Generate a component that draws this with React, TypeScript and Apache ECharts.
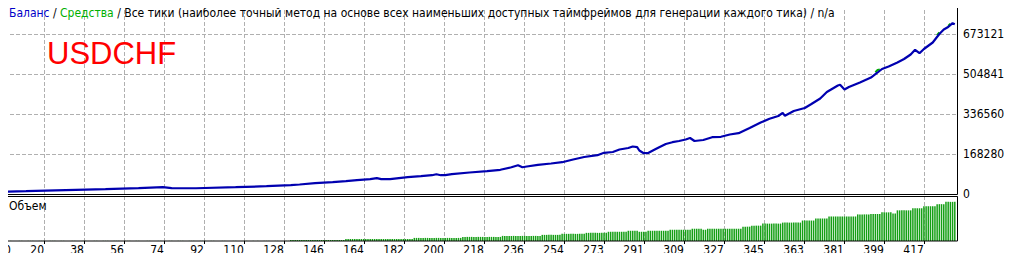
import React, { useEffect, useRef } from "react";
import * as echarts from "echarts";

// ---- data ----
const TRADES = 432;
const X_INTERVAL = 18.13;
const Y_INTERVAL = 168280.25;
const Y_MAX = 799331.2;
const VOL_MAX = 8;

const xTickLabels = [
  "0", "20", "38", "56", "74", "92", "110", "128", "146", "164", "182", "200",
  "218", "236", "254", "273", "291", "309", "327", "345", "363", "381", "399", "417",
];
const yTickLabels = ["0", "168280", "336560", "504841", "673121"];

// [trade, balance]
const balancePoints: [number, number][] = [
  [0, 10000], [10, 11800], [28, 16000], [46, 20200], [61, 24400], [72, 28600],
  [76, 24400], [87, 24200], [105, 28600], [119, 32800], [130, 37000], [134, 40000],
  [141, 45400], [149, 49600], [155, 53800], [160, 58100], [166, 62300], [169, 66500],
  [171, 62300], [175, 62300], [183, 70700], [189, 74900], [194, 79100], [196, 83300],
  [198, 79100], [200, 79100], [203, 83300], [211, 90500], [219, 95900], [225, 101800],
  [230, 112700], [233, 121200], [235, 112700], [237, 115700], [242, 122800], [248, 128300],
  [253, 133800], [258, 145100], [263, 155700], [269, 163200], [272, 173300], [276, 176700],
  [279, 187200], [283, 193500], [285, 199800], [287, 196900], [288, 183000], [290, 171600],
  [292, 172500], [295, 187200], [297, 196900], [300, 210400], [303, 217900], [306, 223000],
  [309, 229300], [311, 235600], [313, 223000], [317, 227200], [321, 239000], [325, 240600],
  [329, 250300], [333, 255800], [338, 277700], [343, 300800], [347, 316400], [351, 328100],
  [353, 341600], [354, 329000], [358, 349200], [363, 361800], [366, 378600], [370, 401800],
  [373, 429100], [378, 456500], [379, 459400], [381, 439600], [383, 450100], [388, 469100],
  [393, 490100], [396, 511200], [398, 525900], [401, 536400], [405, 553200], [408, 567900],
  [411, 586900], [413, 606600], [415, 592300], [417, 610000], [421, 637400], [424, 673100],
  [426, 692100], [428, 702600], [430, 718600], [431, 714300],
];

// equity: only visible where it separates from the balance line
const equityPoints: ([number, number] | [number, string])[] = [
  [395, 512000], [396, 522000], [397, 524000], [397.5, "-"],
  [423, 668000], [424, 680000], [424.5, "-"],
  [428, 707000], [429, 716000],
];

// [firstTrade, lastTrade, lots]
const volumeRuns: [number, number, number][] = [
  [0, 129, 0.02], [130, 154, 0.18], [155, 185, 0.36], [186, 207, 0.55], [208, 225, 0.73],
  [226, 243, 0.91], [244, 252, 1.09], [253, 263, 1.27], [264, 273, 1.45], [274, 282, 1.64],
  [283, 287, 1.82], [288, 291, 1.64], [292, 301, 1.82], [302, 311, 2.0], [312, 316, 2.18],
  [317, 318, 2.0], [319, 334, 2.18], [335, 338, 2.55], [339, 343, 2.73], [344, 352, 3.09],
  [353, 361, 3.27], [362, 367, 3.64], [368, 373, 4.0], [374, 386, 4.36], [387, 392, 4.73],
  [393, 397, 4.8], [398, 402, 5.09], [403, 404, 4.91], [405, 411, 5.45], [412, 416, 5.82],
  [417, 422, 6.18], [423, 426, 6.55], [427, 431, 6.96],
];

const FONT = "'DejaVu Sans Condensed', 'DejaVu Sans', sans-serif";
const off = { show: false };
const dashed = () => ({
  show: true,
  lineStyle: { color: "#b0b0b0", type: "dashed", width: 1 },
});

export default function App() {
  const ref = useRef<HTMLDivElement>(null);
  useEffect(() => {
    if (!ref.current) return;
    const chart = echarts.init(ref.current, undefined, { renderer: "svg" });

    const volumeData: [number, number][] = [];
    for (const [a, b, lots] of volumeRuns) {
      for (let t = a; t <= b; t++) volumeData.push([t, lots]);
    }

    const xFmt = (v: number) => {
      const k = Math.round(v / X_INTERVAL);
      return Math.abs(v - k * X_INTERVAL) < 0.05 ? xTickLabels[k] ?? "" : "";
    };
    const yFmt = (v: number) => {
      const k = Math.round(v / Y_INTERVAL);
      return Math.abs(v - k * Y_INTERVAL) < 2 ? yTickLabels[k] ?? "" : "";
    };

    chart.setOption({
      animation: false,
      backgroundColor: "#ffffff",
      title: {
        left: 9,
        top: 7,
        padding: 0,
        text:
          "{b|Баланс} / {g|Средства} / Все тики (наиболее точный метод на основе всех наименьших доступных таймфреймов для генерации каждого тика) / n/a",
        textStyle: {
          fontSize: 12,
          fontWeight: "normal",
          color: "#000000",
          fontFamily: FONT,
          rich: {
            b: { color: "#0000c8", fontSize: 12, fontFamily: FONT },
            g: { color: "#00b000", fontSize: 12, fontFamily: FONT },
          },
        },
      },
      grid: [
        { left: 4, top: 4, width: 953, height: 190, show: false },
        { left: 4, top: 196, width: 953, height: 45, show: false },
      ],
      xAxis: [
        {
          type: "value", gridIndex: 0, min: 0, max: TRADES, interval: X_INTERVAL,
          axisLine: off, axisTick: off, axisLabel: off, splitLine: dashed(),
        },
        {
          type: "value", gridIndex: 1, min: 0, max: TRADES, interval: X_INTERVAL,
          axisLine: off,
          axisTick: { show: true, length: 3, lineStyle: { color: "#000" } },
          axisLabel: {
            show: true, formatter: xFmt, align: "right", alignMinLabel: "left",
            showMaxLabel: false, margin: 3, fontSize: 12, color: "#000", fontFamily: FONT,
          },
          splitLine: dashed(),
        },
      ],
      yAxis: [
        {
          type: "value", gridIndex: 0, position: "right", min: 0, max: Y_MAX, interval: Y_INTERVAL,
          axisLine: off,
          axisTick: { show: true, length: 4, lineStyle: { color: "#000" } },
          axisLabel: {
            formatter: yFmt, showMaxLabel: false, margin: 6, fontSize: 12, color: "#000",
            fontFamily: FONT,
          },
          splitLine: dashed(),
        },
        {
          type: "value", gridIndex: 1, min: 0, max: VOL_MAX,
          axisLine: off, axisTick: off, axisLabel: off, splitLine: off,
        },
      ],
      series: [
        {
          name: "Средства", type: "line", xAxisIndex: 0, yAxisIndex: 0, data: equityPoints,
          showSymbol: false, connectNulls: false, z: 2,
          lineStyle: { color: "#00b000", width: 2 },
        },
        {
          name: "Баланс", type: "line", xAxisIndex: 0, yAxisIndex: 0, data: balancePoints,
          showSymbol: false, z: 3,
          lineStyle: { color: "#0000b0", width: 2.2 },
        },
        {
          name: "Объем", type: "bar", xAxisIndex: 1, yAxisIndex: 1, data: volumeData,
          barWidth: 1.5, itemStyle: { color: "#159f15" }, z: 2,
        },
      ],
      graphic: [
        {
          type: "rect", z: 100, silent: true,
          shape: { x: 4.5, y: 4.5, width: 953, height: 190 },
          style: { fill: "none", stroke: "#000", lineWidth: 1 },
        },
        {
          type: "rect", z: 100, silent: true,
          shape: { x: 4.5, y: 196.5, width: 953, height: 44.5 },
          style: { fill: "none", stroke: "#000", lineWidth: 1 },
        },
        {
          type: "text", z: 100, left: 47, top: 38,
          style: { text: "USDCHF", fill: "#ff0000", fontSize: 31, fontFamily: "'Liberation Sans', Arial, sans-serif" },
        },
        {
          type: "text", z: 100, left: 9, top: 200,
          style: { text: "Объем", fill: "#000", fontSize: 12, fontFamily: FONT },
        },
      ],
    });
    return () => chart.dispose();
  }, []);
  return <div ref={ref} style={{ width: 1012, height: 261, margin: -8 }} />;
}
